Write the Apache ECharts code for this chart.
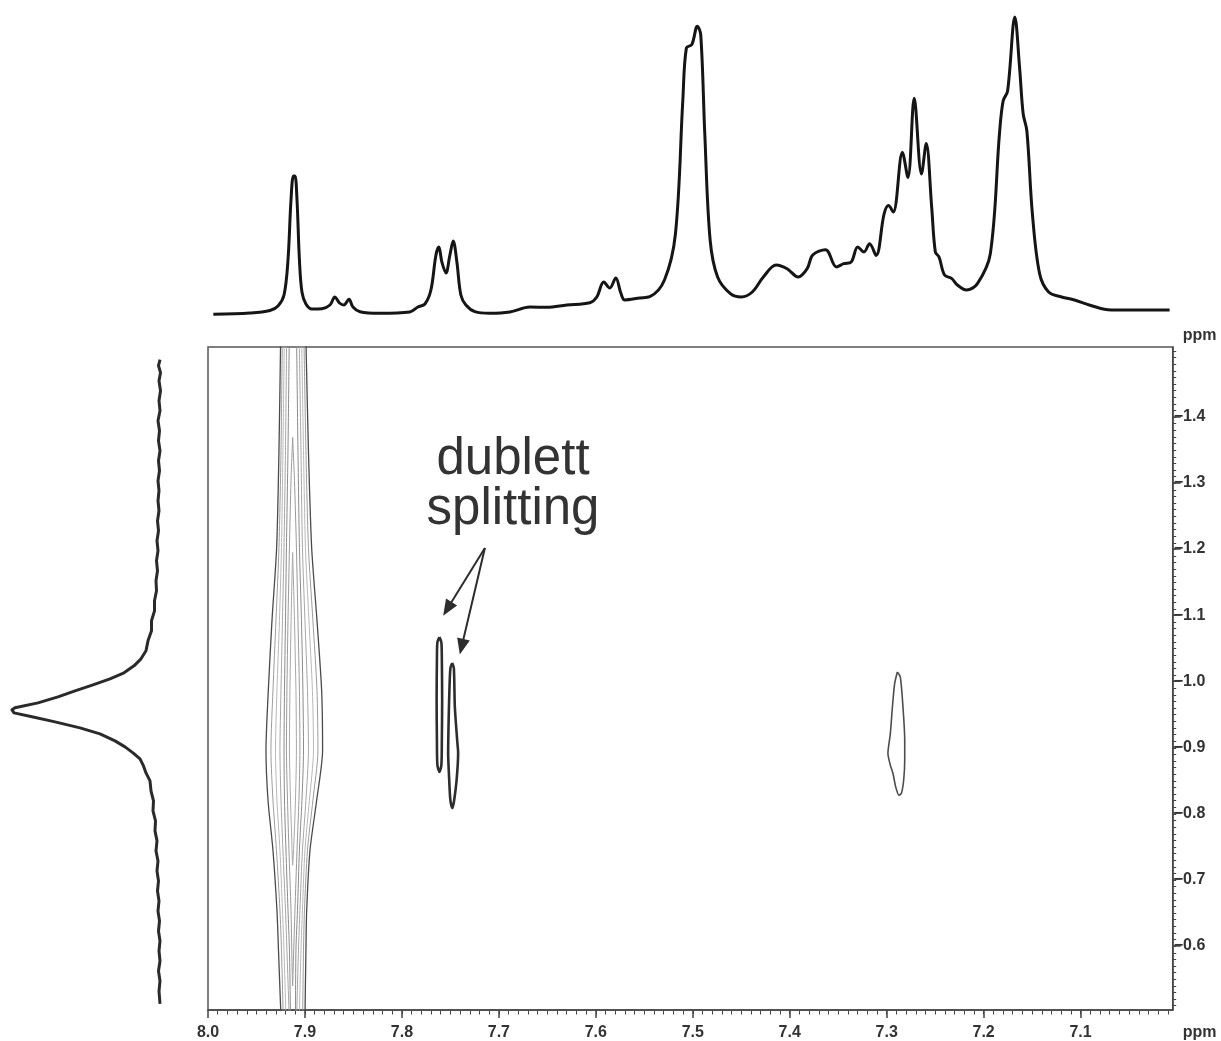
<!DOCTYPE html>
<html><head><meta charset="utf-8">
<script src="https://cdn.jsdelivr.net/npm/echarts@6/dist/echarts.min.js"></script>
<style>html,body{margin:0;padding:0;background:#fff}#c{width:1221px;height:1041px}</style>
</head><body><div id="c"></div>
<script>
// ---- axis ticks ----
const xTickValues = [8.0, 7.9, 7.8, 7.7, 7.6, 7.5, 7.4, 7.3, 7.2, 7.1];
const yTickValues = [-1.4, -1.3, -1.2, -1.1, -1.0, -0.9, -0.8, -0.7, -0.6];

// ---- top 1D spectrum (ppm, intensity) ----
const topPpm = [7.9945,7.9567,7.9361,7.9278,7.9216,7.9175,7.9144,7.9119,7.9103,7.9082,7.9057,7.9031,7.8990,7.8928,7.8825,7.8742,7.8691,7.8644,7.8598,7.8546,7.8505,7.8433,7.8227,7.7918,7.7835,7.7763,7.7701,7.7649,7.7619,7.7588,7.7546,7.7505,7.7471,7.7433,7.7392,7.7340,7.7247,7.7093,7.6887,7.6680,7.6505,7.6299,7.6062,7.5990,7.5918,7.5856,7.5794,7.5742,7.5701,7.5546,7.5443,7.5292,7.5179,7.5103,7.5066,7.5010,7.4953,7.4918,7.4876,7.4821,7.4744,7.4612,7.4499,7.4386,7.4272,7.4140,7.4027,7.3913,7.3820,7.3763,7.3631,7.3518,7.3443,7.3366,7.3299,7.3234,7.3177,7.3109,7.3027,7.2981,7.2932,7.2838,7.2781,7.2716,7.2641,7.2592,7.2536,7.2498,7.2460,7.2403,7.2328,7.2271,7.2177,7.2064,7.1931,7.1837,7.1799,7.1753,7.1678,7.1629,7.1592,7.1554,7.1497,7.1423,7.1330,7.1196,7.1063,7.0911,7.0685,7.0082];
const topInt = [0.7,2,4.5,9,20,55,115,139,139,115,55,23,11,6,6.3,10,18,12,10,15.7,8,3.3,1.7,3,8,11,25,60,68,53,42,60,74,53,20,10,3.3,1.7,3,8,7.7,10,12.3,18,33,27,37,22,15,17,18.3,35,81,214,267,270.4,288.7,280.4,181,75,38,21.4,18,23,38,50,46.3,38,46.3,60,65.3,48,51.3,53,68,63,71.2,59.6,101,109.4,103,162.5,137.6,216.7,141,171.5,108,63,58,40,36.4,30,25,31.4,61.3,181,214,224,298,247,201,184,101,41.4,23,18,15,10,5,5];

// ---- left 1D projection (ppm, intensity) ----
const leftPpm = [-1.4868,-1.4778,-1.4672,-1.4551,-1.4399,-1.4248,-1.4097,-1.3946,-1.3794,-1.3643,-1.3492,-1.3340,-1.3189,-1.3038,-1.2887,-1.2735,-1.2584,-1.2433,-1.2281,-1.2130,-1.1979,-1.1828,-1.1676,-1.1525,-1.1374,-1.1222,-1.1071,-1.0920,-1.0769,-1.0617,-1.0466,-1.0345,-1.0239,-1.0133,-1.0042,-0.9952,-0.9861,-0.9770,-0.9679,-0.9604,-0.9574,-0.9528,-0.9468,-0.9392,-0.9301,-0.9210,-0.9104,-0.9014,-0.8923,-0.8832,-0.8726,-0.8620,-0.8499,-0.8348,-0.8197,-0.8045,-0.7894,-0.7743,-0.7592,-0.7440,-0.7289,-0.7138,-0.6987,-0.6835,-0.6684,-0.6533,-0.6381,-0.6230,-0.6079,-0.5928,-0.5776,-0.5625,-0.5474,-0.5322,-0.5126];
const leftInt = [2,3.5,1.5,3,1.5,3,2,4,2.5,3.5,2,3.5,2.5,4,3,4,3,4.5,3.5,5,4,5.5,4.5,6,5.5,7.5,7.5,10.5,10.5,14,16,21,28,38,52,69,87,104,124,147,150,148,130,107,82,62,47,37,29,22,18.5,16,12,11,8.5,9,6.5,7,5,6,4,5,3.5,4.5,3,4,2.5,3.5,2,3,2,3.5,2,3,2];

// ---- 2D contours: big column at 7.91 ppm (open at both ends) ----
const colY  = [-1.5156,-1.3492,-1.2024,-1.0920,-0.9861,-0.8953,-0.8197,-0.7440,-0.6533,-0.5925,-0.4899];
const c1L = [7.9251,7.9268,7.9292,7.9340,7.9378,7.9402,7.9381,7.9330,7.9289,7.9273,7.9247];
const c1R = [7.8990,7.8964,7.8931,7.8876,7.8828,7.8818,7.8879,7.8948,7.8982,7.8990,7.9000];
const c2L = [7.9234,7.9247,7.9268,7.9299,7.9330,7.9351,7.9330,7.9294,7.9258,7.9242,7.9224];
const c2R = [7.9010,7.8990,7.8964,7.8918,7.8876,7.8866,7.8918,7.8974,7.9005,7.9015,7.9024];
const c3L = [7.9213,7.9227,7.9242,7.9263,7.9289,7.9304,7.9289,7.9258,7.9232,7.9216,7.9196];
const c3R = [7.9034,7.9015,7.8995,7.8959,7.8923,7.8912,7.8954,7.9000,7.9026,7.9041,7.9059];
const c4L = [7.9189,7.9201,7.9216,7.9232,7.9247,7.9258,7.9247,7.9227,7.9201,7.9186,7.9162];
const c4R = [7.9059,7.9041,7.9026,7.9000,7.8974,7.8964,7.8990,7.9026,7.9052,7.9067,7.9086];
const c5L = [7.9162,7.9175,7.9191,7.9201,7.9211,7.9216,7.9211,7.9196,7.9175,7.9160,7.9149];
const c5R = [7.9086,7.9072,7.9057,7.9036,7.9021,7.9015,7.9031,7.9057,7.9077,7.9093,7.9098];
// closed inner contours of the column
const c6X = [7.9127,7.9108,7.9088,7.9072,7.9057,7.9052,7.9062,7.9082,7.9103,7.9119,7.9127,7.9134,7.9144,7.9165,7.9180,7.9191,7.9186,7.9175,7.9160,7.9144,7.9127];
const c6Y = [-1.3688,-1.3038,-1.2024,-1.0920,-0.9861,-0.8953,-0.8197,-0.7440,-0.6533,-0.5776,-0.5383,-0.5776,-0.6533,-0.7440,-0.8197,-0.8953,-0.9861,-1.0920,-1.2024,-1.3038,-1.3688];
const c7X = [7.9127,7.9113,7.9093,7.9088,7.9098,7.9113,7.9127,7.9136,7.9149,7.9160,7.9155,7.9139,7.9127];
const c7Y = [-1.1949,-1.1222,-0.9861,-0.8953,-0.8197,-0.7592,-0.7213,-0.7592,-0.8197,-0.8953,-0.9861,-1.1222,-1.1949];
// doublet contours
const d1X = [7.7613,7.7593,7.7588,7.7585,7.7588,7.7593,7.7613,7.7634,7.7639,7.7642,7.7639,7.7634,7.7613];
const d1Y = [-1.0667,-1.0587,-1.0315,-0.9710,-0.9105,-0.8727,-0.8625,-0.8727,-0.9105,-0.9710,-1.0315,-1.0587,-1.0667];
const d2X = [7.7481,7.7464,7.7454,7.7430,7.7420,7.7436,7.7461,7.7479,7.7500,7.7512,7.7523,7.7518,7.7510,7.7500,7.7481];
const d2Y = [-1.0274,-1.0194,-0.9608,-0.9107,-0.8910,-0.8499,-0.8197,-0.8076,-0.8197,-0.8499,-0.8910,-0.9407,-0.9861,-1.0194,-1.0274];
// contour at 7.29 ppm
const p3X = [7.2890,7.2859,7.2832,7.2814,7.2814,7.2825,7.2848,7.2873,7.2907,7.2935,7.2962,7.2987,7.2962,7.2941,7.2918,7.2890];
const p3Y = [-1.0138,-1.0062,-0.9608,-0.9104,-0.8802,-0.8499,-0.8303,-0.8272,-0.8398,-0.8601,-0.8726,-0.8903,-0.9210,-0.9608,-0.9962,-1.0138];

// annotation arrows (start / end in ppm)
const arrowFrom = [7.7144, -1.2016];
const arrowTo1 = [7.7531, -1.1095];
const arrowTo2 = [7.7384, -1.0520];

const X_MIN = 7.005, X_MAX = 8.0, Y_MIN = -1.506, Y_MAX = -0.502;

const zip = (a, b) => a.map((v, i) => [v, b[i]]);
const xMinor = [], yMinor = [];
for (let i = 701; i <= 799; i++) xMinor.push(+(i / 100).toFixed(2));
for (let i = -150; i <= -51; i++) yMinor.push(+(i / 100).toFixed(2));

const FONT = '"Liberation Sans", Arial, sans-serif';
const LBL = { fontSize: 16, fontWeight: 'bold', color: '#333', fontFamily: FONT };
const AX = '#444';

function contour(data, color, width) {
  return { type: 'line', xAxisIndex: 0, yAxisIndex: 0, data, showSymbol: false, symbol: 'none',
    smooth: 0.25, clip: true, silent: true, lineStyle: { color, width }, z: 3 };
}
const colSeries = [];
[[c1L, c1R, '#4a4a4a', 1.3], [c2L, c2R, '#9c9c9c', 1], [c3L, c3R, '#b8b8b8', 1],
 [c4L, c4R, '#a6a6a6', 1], [c5L, c5R, '#8a8a8a', 1]].forEach(([l, r, c, w]) => {
  colSeries.push(contour(zip(l, colY), c, w));
  colSeries.push(contour(zip(r, colY), c, w));
});

const chart = echarts.init(document.getElementById('c'), null, { renderer: 'canvas' });
chart.setOption({
  animation: false,
  backgroundColor: '#fff',
  grid: [
    { left: 208, top: 347, width: 964.7, height: 664, show: true, borderColor: '#555', borderWidth: 1.5, backgroundColor: 'transparent' },
    { left: 208, top: 15, width: 964.7, height: 300 },
    { left: 12, top: 347, width: 150, height: 664 },
    { left: 208, top: 347, width: 964.7, height: 664 }
  ],
  xAxis: [
    { gridIndex: 0, type: 'value', min: X_MIN, max: X_MAX, inverse: true, position: 'bottom',
      axisLine: { show: true, lineStyle: { color: AX, width: 1.5 } },
      axisTick: { show: true, customValues: xTickValues, length: 8, lineStyle: { color: AX, width: 1.5 } },
      axisLabel: Object.assign({ customValues: xTickValues, formatter: v => v.toFixed(1), margin: 15 }, LBL),
      splitLine: { show: false },
      name: 'ppm', nameLocation: 'start', nameGap: 10,
      nameTextStyle: Object.assign({ align: 'left', verticalAlign: 'top', padding: [15, 0, 0, 0] }, LBL) },
    { gridIndex: 1, type: 'value', min: X_MIN, max: X_MAX, inverse: true, show: false },
    { gridIndex: 2, type: 'value', min: 0, max: 150, inverse: true, show: false },
    { gridIndex: 3, type: 'value', min: X_MIN, max: X_MAX, inverse: true, position: 'bottom',
      axisLine: { show: false },
      axisTick: { show: true, customValues: xMinor, length: 3.5, lineStyle: { color: AX, width: 1 } },
      axisLabel: { show: false }, splitLine: { show: false } }
  ],
  yAxis: [
    { gridIndex: 0, type: 'value', min: Y_MIN, max: Y_MAX, inverse: true, position: 'right',
      axisLine: { show: true, lineStyle: { color: AX, width: 1.5 } },
      axisTick: { show: true, customValues: yTickValues, length: 8, lineStyle: { color: AX, width: 1.5 } },
      axisLabel: Object.assign({ customValues: yTickValues, formatter: v => v.toFixed(1).replace('-', '\u2212'), margin: 1 }, LBL),
      splitLine: { show: false },
      name: 'ppm', nameLocation: 'start', nameGap: 11,
      nameTextStyle: Object.assign({ align: 'left', verticalAlign: 'middle', padding: [0, 0, 0, 10] }, LBL) },
    { gridIndex: 1, type: 'value', min: 0, max: 300, show: false },
    { gridIndex: 2, type: 'value', min: Y_MIN, max: Y_MAX, inverse: true, show: false },
    { gridIndex: 3, type: 'value', min: Y_MIN, max: Y_MAX, inverse: true, position: 'right',
      axisLine: { show: false },
      axisTick: { show: true, customValues: yMinor, length: 3.5, lineStyle: { color: AX, width: 1 } },
      axisLabel: { show: false }, splitLine: { show: false } }
  ],
  graphic: [
    { type: 'text', x: 513, y: 460, z: 10,
      style: { text: 'dublett', fill: '#333', font: '51px ' + FONT, align: 'center', verticalAlign: 'middle', textAlign: 'center', textVerticalAlign: 'middle' } },
    { type: 'text', x: 513, y: 510, z: 10,
      style: { text: 'splitting', fill: '#333', font: '51px ' + FONT, align: 'center', verticalAlign: 'middle', textAlign: 'center', textVerticalAlign: 'middle' } }
  ],
  series: [
    { type: 'line', xAxisIndex: 1, yAxisIndex: 1, data: zip(topPpm, topInt), showSymbol: false, symbol: 'none',
      smooth: 0.35, clip: false, silent: true, lineStyle: { color: '#151515', width: 3 } },
    { type: 'line', xAxisIndex: 2, yAxisIndex: 2, data: zip(leftInt, leftPpm), showSymbol: false, symbol: 'none',
      smooth: false, clip: false, silent: true, lineStyle: { color: '#2a2a2a', width: 3, join: 'round' } },
    ...colSeries,
    contour(zip(c6X, c6Y), '#9a9a9a', 1),
    contour(zip(c7X, c7Y), '#a8a8a8', 1),
    contour(zip(d1X, d1Y), '#2d2d2d', 2.6),
    contour(zip(d2X, d2Y), '#2d2d2d', 2.6),
    contour(zip(p3X, p3Y), '#4d4d4d', 1.6),
    { type: 'line', xAxisIndex: 0, yAxisIndex: 0, data: [], silent: true,
      markLine: { silent: true, animation: false, symbol: ['none', 'triangle'], symbolSize: [13, 16],
        label: { show: false }, lineStyle: { color: '#2d2d2d', width: 2, type: 'solid' },
        emphasis: { disabled: true },
        data: [
          [{ coord: arrowFrom }, { coord: arrowTo1 }],
          [{ coord: arrowFrom }, { coord: arrowTo2 }]
        ] } }
  ]
});
</script>
</body></html>
